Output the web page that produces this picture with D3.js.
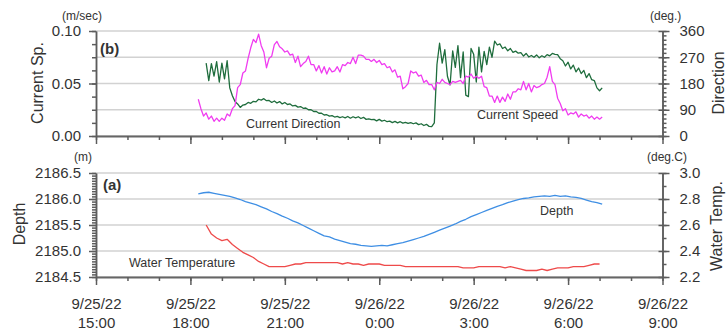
<!DOCTYPE html>
<html>
<head>
<meta charset="utf-8">
<script src="https://cdn.jsdelivr.net/npm/d3@7/dist/d3.min.js"></script>
<style>
	body { margin: 0; background: #fff; }
	svg { display: block; font-family: "Liberation Sans", Arial, sans-serif; }
</style>
</head>
<body>
<svg id="chart" width="726" height="331"></svg>
<script>
//Time axis: 9/25/22 15:00 to 9/26/22 9:00, series start given in minutes after 9/25/22 0:00
var timeDomain = [new Date(2022, 8, 25, 15), new Date(2022, 8, 26, 9)];

//(b) Current speed (m/sec), every 5 min from 18:15
var speedStart = 18 * 60 + 15;
var speedStep = 5;
var speedValues = [
	0.035, 0.026, 0.019, 0.022, 0.016, 0.019, 0.014, 0.017, 0.014, 0.017, 0.015, 0.021,
	0.019, 0.026, 0.029, 0.046, 0.049, 0.060, 0.062, 0.074, 0.084, 0.092, 0.089, 0.097,
	0.086, 0.080, 0.065, 0.074, 0.076, 0.087, 0.090, 0.085, 0.083, 0.080, 0.081, 0.077,
	0.078, 0.070, 0.076, 0.066, 0.069, 0.071, 0.076, 0.068, 0.068, 0.062, 0.067, 0.060,
	0.066, 0.059, 0.065, 0.061, 0.062, 0.066, 0.061, 0.068, 0.067, 0.070, 0.069, 0.075,
	0.069, 0.077, 0.077, 0.076, 0.073, 0.073, 0.071, 0.073, 0.070, 0.072, 0.068, 0.069,
	0.065, 0.066, 0.061, 0.063, 0.056, 0.057, 0.045, 0.047, 0.050, 0.062, 0.060, 0.061,
	0.057, 0.058, 0.051, 0.053, 0.049, 0.049, 0.044, 0.051, 0.050, 0.054, 0.051, 0.050,
	0.049, 0.052, 0.051, 0.052, 0.053, 0.050, 0.057, 0.056, 0.059, 0.055, 0.057, 0.055,
	0.057, 0.047, 0.046, 0.038, 0.038, 0.032, 0.038, 0.032, 0.037, 0.033, 0.040, 0.035,
	0.042, 0.042, 0.045, 0.044, 0.052, 0.044, 0.050, 0.042, 0.048, 0.046, 0.047, 0.049,
	0.050, 0.056, 0.066, 0.052, 0.049, 0.036, 0.031, 0.024, 0.026, 0.020, 0.022, 0.021,
	0.023, 0.018, 0.021, 0.019, 0.020, 0.017, 0.019, 0.016, 0.018, 0.016, 0.018
];

//(b) Current direction (deg.), every 5 min from 18:30
var directionStart = 18 * 60 + 30;
var directionStep = 5;
var directionValues = [
	250, 190, 248, 205, 255, 185, 250, 196, 258, 165, 138, 118,
	110, 98, 106, 108, 115, 112, 119, 117, 126, 123, 128, 121,
	122, 115, 120, 113, 118, 110, 115, 108, 110, 103, 105, 99,
	101, 95, 96, 90, 90, 84, 84, 78, 78, 72, 73, 68,
	70, 65, 67, 63, 66, 62, 67, 61, 66, 62, 66, 60,
	64, 57, 59, 56, 57, 52, 57, 51, 54, 49, 51, 46,
	50, 45, 49, 44, 47, 43, 46, 42, 45, 39, 42, 36,
	40, 33, 32, 45, 245, 318, 250, 296, 205, 175, 292, 235,
	310, 200, 288, 140, 135, 300, 280, 185, 305, 220, 290, 245,
	305, 270, 325, 312, 316, 300, 305, 292, 300, 287, 291, 284,
	286, 274, 283, 271, 276, 270, 278, 268, 275, 270, 279, 275,
	283, 280, 279, 265, 258, 240, 253, 230, 243, 220, 233, 214,
	225, 200, 214, 193, 190, 165, 155, 165
];

//(a) Depth (m), every 10 min from 18:15
var depthStart = 18 * 60 + 15;
var depthStep = 10;
var depthValues = [
	2186.10, 2186.12, 2186.13, 2186.11, 2186.09, 2186.07,
	2186.05, 2186.02, 2185.99, 2185.95, 2185.92, 2185.89,
	2185.85, 2185.81, 2185.76, 2185.72, 2185.67, 2185.63,
	2185.58, 2185.54, 2185.49, 2185.44, 2185.39, 2185.34,
	2185.29, 2185.27, 2185.23, 2185.20, 2185.17, 2185.14,
	2185.13, 2185.11, 2185.10, 2185.09, 2185.10, 2185.11,
	2185.10, 2185.12, 2185.14, 2185.16, 2185.19, 2185.22,
	2185.25, 2185.28, 2185.32, 2185.36, 2185.40, 2185.44,
	2185.48, 2185.52, 2185.57, 2185.61, 2185.66, 2185.70,
	2185.74, 2185.78, 2185.82, 2185.86, 2185.89, 2185.93,
	2185.96, 2185.99, 2186.01, 2186.02, 2186.04, 2186.05,
	2186.06, 2186.05, 2186.07, 2186.05, 2186.06, 2186.04,
	2186.03, 2186.01, 2185.98, 2185.95, 2185.93, 2185.90
];

//(a) Water temperature (deg.C), every 10 min from 18:30
var tempStart = 18 * 60 + 30;
var tempStep = 10;
var tempValues = [
	2.60, 2.53, 2.50, 2.48, 2.49, 2.45,
	2.42, 2.39, 2.37, 2.35, 2.32, 2.30,
	2.28, 2.28, 2.28, 2.28, 2.29, 2.30,
	2.30, 2.31, 2.31, 2.31, 2.31, 2.31,
	2.31, 2.31, 2.30, 2.31, 2.30, 2.30,
	2.29, 2.30, 2.30, 2.30, 2.29, 2.29,
	2.29, 2.29, 2.28, 2.28, 2.28, 2.28,
	2.28, 2.28, 2.28, 2.28, 2.28, 2.28,
	2.28, 2.27, 2.27, 2.27, 2.28, 2.28,
	2.28, 2.28, 2.28, 2.27, 2.28, 2.27,
	2.26, 2.25, 2.25, 2.25, 2.26, 2.25,
	2.26, 2.27, 2.27, 2.27, 2.28, 2.28,
	2.28, 2.29, 2.30, 2.30
];

//Axis ranges and ticks
var speedDomain = [0, 0.10];
var speedTicks = [0, 0.05, 0.10];
var speedGrid = [0, 0.025, 0.05, 0.075, 0.10];
var directionDomain = [0, 360];
var directionTicks = [0, 90, 180, 270, 360];
var depthDomain = [2184.5, 2186.5];
var depthTicks = [2184.5, 2185.0, 2185.5, 2186.0, 2186.5];
var tempDomain = [2.2, 3.0];
var tempTicks = [2.2, 2.4, 2.6, 2.8, 3.0];


function toSeries(startMin, stepMin, values) {
	/*
		builds [{t:Date, v:value}] from a start time, a sampling step and the values
	*/
	return values.map(function(v, i) {
		return { t: new Date(2022, 8, 25, 0, startMin + i * stepMin), v: v };
	});
}

function minorValues(domain, step) {
	//tick positions between domain ends, counted in whole steps
	var n = Math.round((domain[1] - domain[0]) / step);
	return d3.range(n + 1).map(function(i) { return +(domain[0] + i * step).toFixed(4); });
}


class TwinAxisPanel {
	/*
		One panel of the figure: time on x, a left and a right y axis,
		horizontal grid from the left axis and two lines.
	*/

	constructor(svg, config) {
		this.svg = svg;
		this.c = config;
		this.left = 96;
		this.right = 662.5;

		this.x = d3.scaleTime().domain(timeDomain).range([this.left, this.right]);
		this.yL = d3.scaleLinear().domain(config.leftDomain).range([config.bottom, config.top]);
		this.yR = d3.scaleLinear().domain(config.rightDomain).range([config.bottom, config.top]);

		this.g = svg.append("g");
		this._drawGrid();
		this._drawLines();
		this._drawAxes();
	}

	_drawGrid() {
		var that = this;
		this.g.append("g").selectAll("line")
			.data(this.c.grid)
			.enter().append("line")
			.attr("x1", this.left).attr("x2", this.right)
			.attr("y1", function(d) { return that.yL(d); })
			.attr("y2", function(d) { return that.yL(d); })
			.attr("stroke", "#d2d2d2")
			.attr("stroke-width", 1.5);
	}

	_drawLines() {
		var that = this;
		this.c.lines.forEach(function(l) {
			var y = l.axis == "left" ? that.yL : that.yR;
			var line = d3.line()
				.x(function(d) { return that.x(d.t); })
				.y(function(d) { return y(d.v); });
			that.g.append("path")
				.datum(l.data)
				.attr("fill", "none")
				.attr("stroke", l.color)
				.attr("stroke-width", 1.3)
				.attr("stroke-linejoin", "round")
				.attr("d", line);
		});
	}

	_styleAxis(sel) {
		sel.selectAll("path, line").attr("stroke", "#5c5c5c").attr("stroke-width", 1.5);
		sel.selectAll("text")
			.attr("fill", "#333")
			.style("font-family", "'Liberation Sans', Arial, sans-serif")
			.style("font-size", "15px");
	}

	_drawAxes() {
		var c = this.c;

		//left axis: minor ticks, then labelled major ticks
		var gl = this.g.append("g").attr("transform", "translate(" + this.left + ",0)");
		gl.call(d3.axisLeft(this.yL).tickValues(minorValues(c.leftDomain, c.leftMinor))
				.tickSize(4).tickSizeOuter(0).tickFormat(""));
		gl.append("g").call(d3.axisLeft(this.yL).tickValues(c.leftTicks)
				.tickSize(7).tickSizeOuter(0).tickPadding(8).tickFormat(d3.format(c.leftFormat)));
		this._styleAxis(gl);

		//right axis: majors cross the line
		var gr = this.g.append("g").attr("transform", "translate(" + this.right + ",0)");
		gr.call(d3.axisRight(this.yR).tickValues(minorValues(c.rightDomain, c.rightMinor))
				.tickSize(4).tickSizeOuter(0).tickFormat(""));
		var grm = gr.append("g").call(d3.axisRight(this.yR).tickValues(c.rightTicks)
				.tickSize(7).tickSizeOuter(0).tickPadding(10).tickFormat(d3.format(c.rightFormat)));
		grm.selectAll(".tick line").attr("x1", -4);
		this._styleAxis(gr);

		//time axis: hourly minor ticks, 3-hourly major ticks
		var gx = this.g.append("g").attr("transform", "translate(0," + c.bottom + ")");
		gx.call(d3.axisBottom(this.x).ticks(d3.timeHour.every(1))
				.tickSize(4).tickSizeOuter(0).tickFormat(""));
		var gxm = gx.append("g").call(d3.axisBottom(this.x).ticks(d3.timeHour.every(3))
				.tickSize(8).tickSizeOuter(0).tickFormat(""));
		gxm.select(".domain").remove();
		this._styleAxis(gx);
		gx.select(".domain").attr("stroke", "#666").attr("stroke-width", 2);

		if (c.timeLabels) {
			var fDate = d3.timeFormat("%-m/%d/%y");
			var fTime = d3.timeFormat("%-H:%M");
			var txt = gxm.selectAll(".tick").append("text")
				.attr("text-anchor", "middle")
				.attr("fill", "#333")
				.style("font-size", "15px");
			txt.append("tspan").attr("x", 0).attr("y", 32).text(function(d) { return fDate(d); });
			txt.append("tspan").attr("x", 0).attr("y", 51).text(function(d) { return fTime(d); });
		}
	}
}


var svg = d3.select("#chart");

new TwinAxisPanel(svg, {
	top: 31, bottom: 136,
	leftDomain: speedDomain, leftTicks: speedTicks, leftMinor: 0.0125, leftFormat: ".2f",
	rightDomain: directionDomain, rightTicks: directionTicks, rightMinor: 15, rightFormat: "d",
	grid: speedGrid,
	timeLabels: false,
	lines: [
		{ data: toSeries(directionStart, directionStep, directionValues), axis: "right", color: "#1f6d3d" },
		{ data: toSeries(speedStart, speedStep, speedValues), axis: "left", color: "#f03cf0" }
	]
});

new TwinAxisPanel(svg, {
	top: 173, bottom: 277,
	leftDomain: depthDomain, leftTicks: depthTicks, leftMinor: 0.05, leftFormat: ".1f",
	rightDomain: tempDomain, rightTicks: tempTicks, rightMinor: 0.1, rightFormat: ".1f",
	grid: depthTicks,
	timeLabels: true,
	lines: [
		{ data: toSeries(depthStart, depthStep, depthValues), axis: "left", color: "#3f8fe4" },
		{ data: toSeries(tempStart, tempStep, tempValues), axis: "right", color: "#ee4a4a" }
	]
});

//Titles, units and in-plot labels
var labels = svg.append("g").attr("fill", "#333");

function addText(x, y, str, size, opts) {
	opts = opts || {};
	var t = labels.append("text")
		.attr("transform", "translate(" + x + "," + y + ")" + (opts.rotate ? " rotate(-90)" : ""))
		.attr("text-anchor", opts.anchor || "start")
		.style("font-size", size + "px")
		.text(str);
	if (opts.bold) t.style("font-weight", "bold");
	return t;
}

addText(43, 83, "Current Sp.", 16, { rotate: true, anchor: "middle" });
addText(25, 224, "Depth", 16, { rotate: true, anchor: "middle" });
addText(724, 83, "Direction", 16, { rotate: true, anchor: "middle" });
addText(722, 226, "Water Temp.", 16, { rotate: true, anchor: "middle" });

addText(62, 20, "(m/sec)", 12);
addText(650, 20, "(deg.)", 12);
addText(74, 161, "(m)", 12);
addText(647, 161, "(deg.C)", 12);

addText(100, 54, "(b)", 15, { bold: true });
addText(103, 190, "(a)", 15, { bold: true });

addText(246, 128, "Current Direction", 12.5);
addText(477, 119, "Current Speed", 12.5);
addText(540, 215, "Depth", 12.5);
addText(129, 267, "Water Temperature", 12.5);
</script>
</body>
</html>
